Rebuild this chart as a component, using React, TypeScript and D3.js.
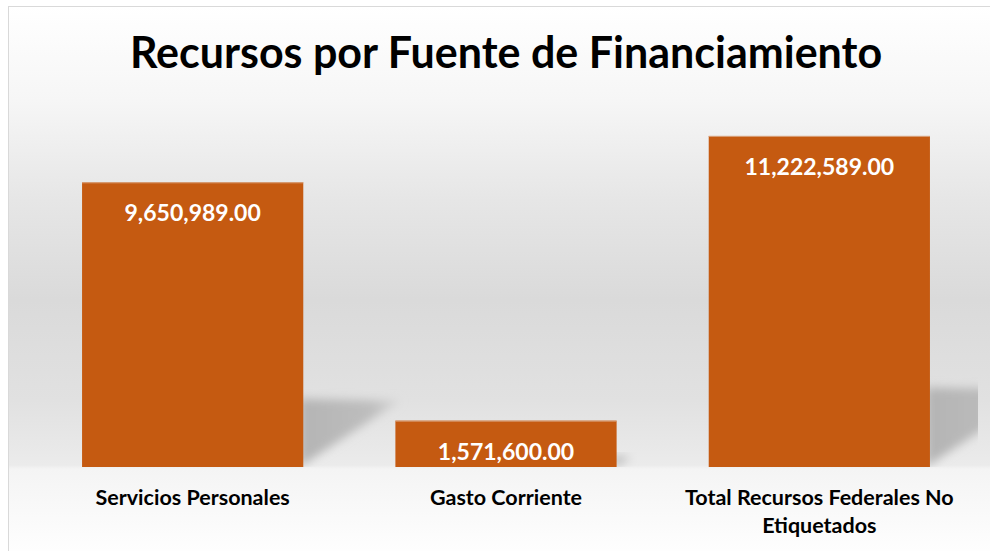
import React from "react";
import * as d3 from "d3";

const categories = ["Servicios Personales", "Gasto Corriente", "Total Recursos Federales No Etiquetados"];
const categoryLines = [["Servicios Personales"], ["Gasto Corriente"], ["Total Recursos Federales No", "Etiquetados"]];
const values = [9650989.0, 1571600.0, 11222589.0];
const title = "Recursos por Fuente de Financiamiento";
const yMax = 12000000;

const W = 990;
const H = 551;
const FONT = "Lato, 'Open Sans', sans-serif";

export default function App() {
  const floor = 467;
  const x = d3.scaleBand<string>().domain(categories).range([36, 976]).paddingInner(0.294).paddingOuter(0.147);
  const y = d3.scaleLinear().domain([0, yMax]).range([floor, 113]);
  const fmt = d3.format(",.2f");

  return (
    <svg width={W} height={H} style={{ position: "absolute", left: 0, top: 0 }} xmlns="http://www.w3.org/2000/svg">
      <defs>
        <linearGradient id="bg" x1="0" y1="0" x2="0" y2={H} gradientUnits="userSpaceOnUse">
          <stop offset={6 / H} stopColor="#ffffff" />
          <stop offset={100 / H} stopColor="#f6f6f6" />
          <stop offset={200 / H} stopColor="#e6e6e6" />
          <stop offset={300 / H} stopColor="#dadada" />
          <stop offset={400 / H} stopColor="#e1e1e1" />
          <stop offset={465 / H} stopColor="#ebebeb" />
          <stop offset={469 / H} stopColor="#f4f4f4" />
          <stop offset={1} stopColor="#fefefe" />
        </linearGradient>
        <linearGradient id="shadowGrad" x1="0" y1="0" x2="1" y2="0">
          <stop offset="0" stopColor="#b4b4b4" />
          <stop offset="0.7" stopColor="#bdbdbd" />
          <stop offset="1" stopColor="#d5d5d5" />
        </linearGradient>
        <filter id="blur" x="-30%" y="-30%" width="160%" height="160%">
          <feGaussianBlur stdDeviation="5" />
        </filter>
        <clipPath id="plotClip">
          <rect x={8} y={6} width={970} height={floor - 6} />
        </clipPath>
      </defs>
      <rect x={0} y={0} width={W} height={H} fill="#ffffff" />
      <rect x={8.5} y={6.5} width={W + 10} height={H + 10} fill="url(#bg)" stroke="#d9d9d9" strokeWidth={1} />

      <g clipPath="url(#plotClip)">
        {categories.map((c, i) => {
          const x0 = (x(c) as number) + x.bandwidth();
          const h = floor - y(values[i]);
          const top = floor - 0.24 * h;
          const tip = x0 + 0.34 * h;
          return (
            <polygon
              key={c}
              points={`${x0 - 4},${top} ${tip},${top + 2} ${x0 - 4},${floor}`}
              fill="url(#shadowGrad)"
              filter="url(#blur)"
            />
          );
        })}
      </g>

      {categories.map((c, i) => (
        <g key={c}>
          <rect x={x(c)} y={y(values[i])} width={x.bandwidth()} height={floor - y(values[i])} fill="#C55A11" />
          <line x1={x(c)} x2={(x(c) as number) + x.bandwidth()} y1={y(values[i]) + 0.5} y2={y(values[i]) + 0.5} stroke="#d9a27c" strokeWidth={1} />
          <text
            x={(x(c) as number) + x.bandwidth() / 2}
            y={y(values[i]) + 39}
            textAnchor="middle"
            fontFamily={FONT}
            fontWeight="bold"
            fontSize={23}
            fill="#ffffff"
          >
            {fmt(values[i])}
          </text>
          {categoryLines[i].map((line, j) => (
            <text
              key={j}
              x={(x(c) as number) + x.bandwidth() / 2}
              y={505 + j * 28}
              textAnchor="middle"
              fontFamily={FONT}
              fontWeight="bold"
              fontSize={21.5}
              fill="#000000"
            >
              {line}
            </text>
          ))}
        </g>
      ))}

      <text x={506} y={68} textAnchor="middle" fontFamily={FONT} fontWeight="bold" fontSize={43} fill="#000000">
        {title}
      </text>
    </svg>
  );
}
